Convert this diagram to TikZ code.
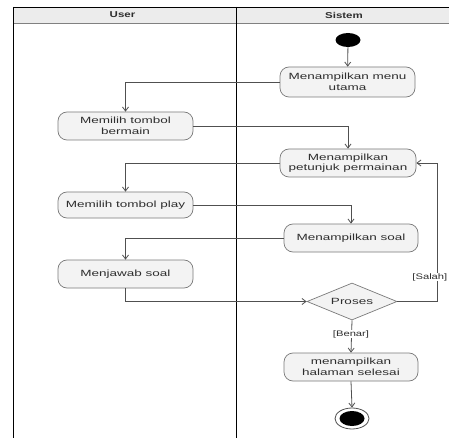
\documentclass[tikz,border=0pt]{standalone}
\usepackage{fontspec}
\usetikzlibrary{arrows.meta,shapes.geometric}
\newfontfamily\actfont[FakeStretch=1.5]{Liberation Sans}
\newfontfamily\lanefont[FakeStretch=1.35]{Liberation Sans}
\newfontfamily\guardfont[FakeStretch=1.4]{Liberation Sans}
\definecolor{actfill}{HTML}{F3F3F3}
\definecolor{actline}{HTML}{7A7A7A}
\definecolor{flowline}{HTML}{505050}
\definecolor{headfill}{HTML}{ECECEC}
\definecolor{txt}{HTML}{2E2E2E}
\begin{document}
\begin{tikzpicture}[x=1pt,y=-1pt,
  activity/.style={draw=actline, fill=actfill, line width=0.7pt,
    rounded corners=9pt, minimum width=135pt, minimum height=28pt,
    inner sep=1pt, align=center, text=txt,
    font=\actfont\fontsize{9}{10.5}\selectfont},
  decision/.style={diamond, draw=actline, fill=actfill, line width=0.7pt,
    minimum width=90pt, minimum height=37pt, aspect=2.43, inner sep=0pt,
    text=txt, font=\actfont\fontsize{9}{10.5}\selectfont},
  flow/.style={draw=flowline, line width=0.8pt,
    -{Straight Barb[length=4pt,width=6pt]}},
  guard/.style={fill=white, inner sep=0.5pt, text=txt,
    font=\guardfont\fontsize{8}{9}\selectfont},
  lane/.style={draw=black, line width=0.8pt},
  lanetitle/.style={text=txt, font=\lanefont\bfseries\fontsize{8.5}{10}\selectfont}
]
\useasboundingbox (0,0) rectangle (449,438);
\clip (0,0) rectangle (449,438);
\fill[white] (0,0) rectangle (449,438);

% swimlanes
\fill[headfill] (13,7) rectangle (470,23);
\draw[lane] (13,7) -- (470,7);
\draw[lane, draw=gray] (13,23) -- (470,23);
\draw[lane] (13,7) -- (13,460);
\draw[lane] (236,7) -- (236,460);
\node[lanetitle] (luser) at (122.5,15) {User};
\node[lanetitle] (lsys) at (344,15) {Sistem};

% start and end
\node[ellipse, fill=black, minimum width=25pt, minimum height=14pt, inner sep=0pt] (start) at (348,40) {};
\node[ellipse, draw=flowline, line width=0.8pt, fill=white, minimum width=34pt, minimum height=21pt, inner sep=0pt] (end) at (352,418.5) {};
\node[ellipse, fill=black, minimum width=25pt, minimum height=15pt, inner sep=0pt] (endcore) at (352,418.5) {};

% activities
\node[activity, minimum height=30pt] (menu) at (347.5,82) {Menampilkan menu\\utama};
\node[activity] (bermain) at (125.5,126) {Memilih tombol\\bermain};
\node[activity, minimum width=136pt] (petunjuk) at (348,163) {Menampilkan\\petunjuk permainan};
\node[activity, minimum height=26pt] (play) at (125.5,205) {Memilih tombol play};
\node[activity, minimum width=134pt] (soal) at (351,238) {Menampilkan soal};
\node[activity] (jawab) at (125.5,274) {Menjawab soal};
\node[decision] (proses) at (352,301.5) {Proses};
\node[activity, minimum width=134pt] (selesai) at (351,367) {menampilkan\\halaman selesai};

\coordinate (loop) at (437,163);

% control flow
\draw[flow] (start) -- (menu);
\draw[flow] (menu.west) -| (bermain.north);
\draw[flow] (bermain.east) -| (petunjuk.north);
\draw[flow] (petunjuk.west) -| (play.north);
\draw[flow] (play.east) -| (soal.north);
\draw[flow] (soal.west) -| (jawab.north);
\draw[flow] (jawab.south) |- (proses.west);
\draw[flow] (proses.east) -| (loop) -- (petunjuk.east);
\draw[flow] (proses.south) -- (selesai.north);
\draw[flow] (selesai.south) -- (end.north);

% guards
\node[guard] (gbenar) at (351,334) {[Benar]};
\node[guard, anchor=east] (gsalah) at (448,277) {[Salah]};
\end{tikzpicture}
\end{document}
